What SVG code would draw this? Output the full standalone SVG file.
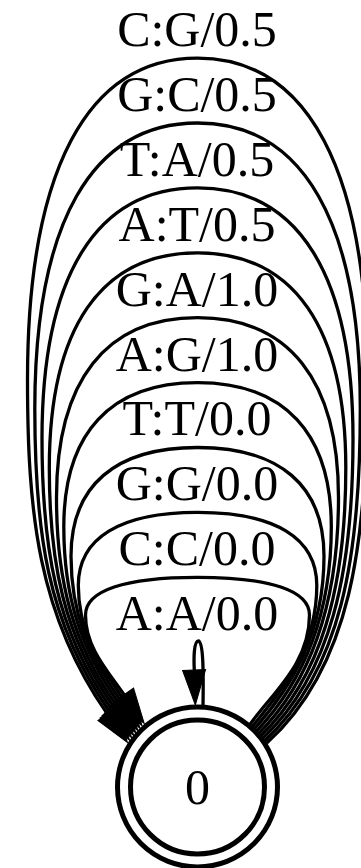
<svg xmlns="http://www.w3.org/2000/svg" xmlns:xlink="http://www.w3.org/1999/xlink" width="361" height="868" viewBox="0 0 361 868">
<style>
text{font-family:"Liberation Serif","Times New Roman",serif;font-size:50px;text-anchor:middle;fill:#000}
.e{fill:none;stroke:#000;stroke-width:3.3}
.n{fill:none;stroke:#000;stroke-width:5}
.ah{fill:#000;stroke:#000;stroke-width:1}
</style>
<defs>
<polygon id="arrow" points="0,0 -35,-11.5 -35,11.5"/>
</defs>
<rect width="361" height="868" fill="#fff"/>
<g id="edges">
<g id="e_AA"><path class="e" d="M203,706 C203.5,675 203.5,641 198.5,641 C193.5,641 193.8,660 194.3,670"/><use xlink:href="#arrow" class="ah" transform="translate(195.3,705) rotate(88)"/><text x="197" y="630.1">A:A/0.0</text></g>
<g id="e_CC"><path class="e" d="M250.2,724.2 C271.6,693.6 309.5,664.1 309.5,615.0 C309.5,590.5 270.3,577.3 197.5,577.3 C124.7,577.3 85.5,590.5 85.5,615.0 C85.5,646.9 106.3,669.4 124.1,694.8"/><use xlink:href="#arrow" class="ah" transform="translate(144.2,723.4) rotate(55)"/><text x="197" y="565.2">C:C/0.0</text></g>
<g id="e_GG"><path class="e" d="M252.3,726.6 C281.5,690.3 316.8,649.0 316.8,585.6 C316.8,538.0 275.0,512.4 197.5,512.4 C120.0,512.4 78.3,538.0 78.3,585.6 C78.3,630.2 97.8,662.6 122.0,697.2"/><use xlink:href="#arrow" class="ah" transform="translate(142.1,725.8) rotate(55)"/><text x="197" y="500.3">G:G/0.0</text></g>
<g id="e_TT"><path class="e" d="M254.3,728.9 C291.4,687.1 324.0,633.9 324.0,556.2 C324.0,485.6 279.7,447.5 197.5,447.5 C115.3,447.5 71.0,485.6 71.0,556.2 C71.0,613.5 89.3,655.9 119.9,699.6"/><use xlink:href="#arrow" class="ah" transform="translate(140.0,728.2) rotate(55)"/><text x="197" y="435.4">T:T/0.0</text></g>
<g id="e_AG"><path class="e" d="M256.4,731.3 C301.3,683.8 331.3,618.8 331.3,526.8 C331.3,433.1 284.4,382.6 197.5,382.6 C110.6,382.6 63.8,433.1 63.8,526.8 C63.8,596.8 80.8,649.1 117.8,702.0"/><use xlink:href="#arrow" class="ah" transform="translate(137.9,730.6) rotate(55)"/><text x="197" y="370.5">A:G/1.0</text></g>
<g id="e_GA"><path class="e" d="M258.5,733.7 C311.2,680.6 338.5,603.7 338.5,497.4 C338.5,380.6 289.2,317.7 197.5,317.7 C105.9,317.7 56.5,380.6 56.5,497.4 C56.5,580.2 72.3,642.4 115.7,704.4"/><use xlink:href="#arrow" class="ah" transform="translate(135.8,733.0) rotate(55)"/><text x="197" y="305.6">G:A/1.0</text></g>
<g id="e_AT"><path class="e" d="M260.5,736.0 C321.0,677.3 345.8,588.5 345.8,468.0 C345.8,328.1 293.9,252.8 197.5,252.8 C101.1,252.8 49.3,328.1 49.3,468.0 C49.3,563.5 63.8,635.6 113.6,706.7"/><use xlink:href="#arrow" class="ah" transform="translate(133.7,735.4) rotate(55)"/><text x="197" y="240.7">A:T/0.5</text></g>
<g id="e_TA"><path class="e" d="M262.6,738.4 C330.9,674.0 353.0,573.4 353.0,438.5 C353.0,275.6 298.6,187.9 197.5,187.9 C96.4,187.9 42.0,275.6 42.0,438.5 C42.0,546.8 55.3,628.9 111.5,709.1"/><use xlink:href="#arrow" class="ah" transform="translate(131.6,737.7) rotate(55)"/><text x="197" y="175.8">T:A/0.5</text></g>
<g id="e_GC"><path class="e" d="M264.6,740.7 C340.8,670.7 360.3,558.3 360.3,409.1 C360.3,223.1 303.3,123.0 197.5,123.0 C91.7,123.0 34.8,223.1 34.8,409.1 C34.8,530.1 46.8,622.1 109.4,711.5"/><use xlink:href="#arrow" class="ah" transform="translate(129.5,740.1) rotate(55)"/><text x="197" y="110.9">G:C/0.5</text></g>
<g id="e_CG"><path class="e" d="M266.7,743.1 C350.7,667.5 367.5,543.2 367.5,379.7 C367.5,170.7 308.0,58.1 197.5,58.1 C87.0,58.1 27.5,170.7 27.5,379.7 C27.5,513.4 38.3,615.3 107.3,713.9"/><use xlink:href="#arrow" class="ah" transform="translate(127.4,742.5) rotate(55)"/><text x="197" y="46">C:G/0.5</text></g>
</g>
<g id="node0">
<circle class="n" cx="197.5" cy="787" r="80"/>
<circle class="n" cx="197.5" cy="787" r="67"/>
<text x="197.5" y="804">0</text>
</g>
</svg>
